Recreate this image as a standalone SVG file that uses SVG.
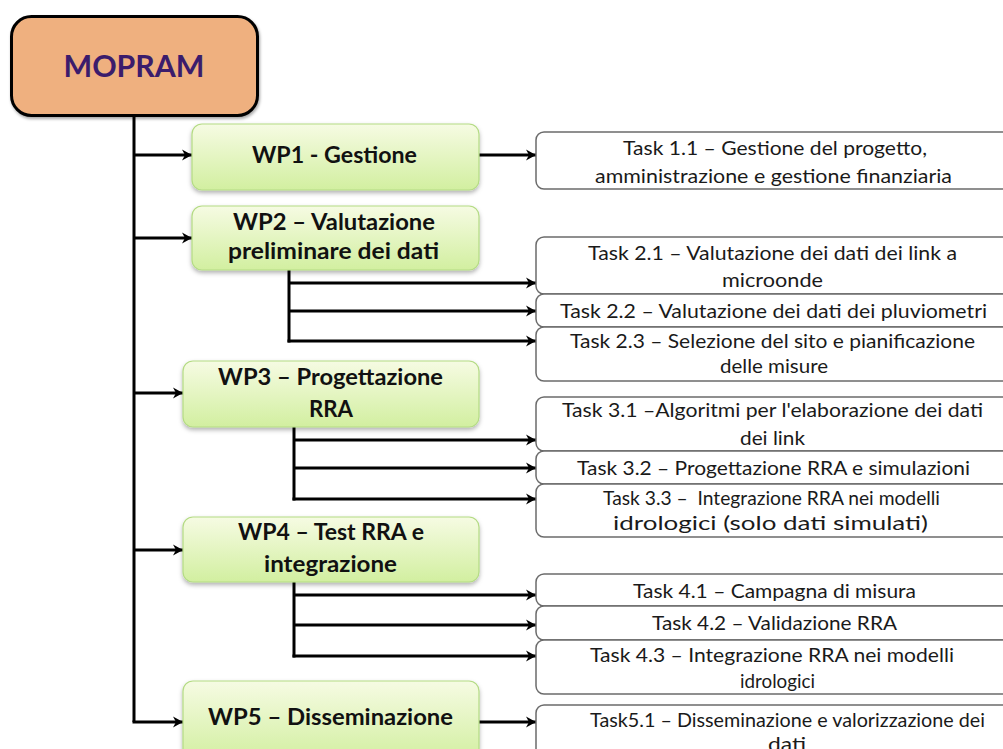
<svg xmlns="http://www.w3.org/2000/svg" width="1003" height="749" viewBox="0 0 1003 749">
<style>
.conn{fill:none;stroke:#000;stroke-width:3;}
.arr{fill:none;stroke:#000;stroke-width:3;marker-end:url(#ah);}
.wp{fill:url(#gw);stroke:#B4DB84;stroke-width:1.2;filter:url(#sh);}
.task{fill:#fff;stroke:#6b6b6b;stroke-width:1.5;}
.wt{font-family:Lato,"Open Sans",sans-serif;font-weight:bold;font-size:22px;fill:#111;text-anchor:middle;}
.tt{font-family:Lato,"Open Sans",sans-serif;font-size:19px;fill:#1a1a1a;text-anchor:middle;}
</style>
<defs>
<linearGradient id="gw" x1="0" y1="0" x2="0" y2="1">
<stop offset="0" stop-color="#F6FBE3"/>
<stop offset="1" stop-color="#D2EFA0"/>
</linearGradient>
<filter id="sh" x="-10%" y="-20%" width="120%" height="150%">
<feDropShadow dx="0" dy="2.5" stdDeviation="2" flood-color="#000" flood-opacity="0.3"/>
</filter>
<filter id="sh2" x="-10%" y="-20%" width="120%" height="150%">
<feDropShadow dx="1" dy="2" stdDeviation="1.5" flood-color="#000" flood-opacity="0.35"/>
</filter>
<marker id="ah" markerUnits="userSpaceOnUse" markerWidth="14" markerHeight="14" refX="11" refY="7" orient="auto" viewBox="0 0 14 14">
<path d="M1,1.5 L11,7 L1,12.5 L4,7 Z" fill="#000"/>
</marker>
</defs>

<g id="connectors">
<path class="conn" d="M134,116 V722"/>
<path class="arr" d="M134,155 H192"/>
<path class="arr" d="M134,238 H192"/>
<path class="arr" d="M134,393 H183"/>
<path class="arr" d="M134,550 H183"/>
<path class="arr" d="M132.5,722 H183"/>
<path class="arr" d="M479,155 H536"/>
<path class="arr" d="M479,722 H536"/>
<path class="conn" d="M289,270 V342.5"/>
<path class="arr" d="M289,283 H536"/>
<path class="arr" d="M289,311 H536"/>
<path class="arr" d="M287.5,341 H536"/>
<path class="conn" d="M294,427 V500.5"/>
<path class="arr" d="M294,440 H536"/>
<path class="arr" d="M294,468 H536"/>
<path class="arr" d="M292.5,499 H536"/>
<path class="conn" d="M294,582 V657.5"/>
<path class="arr" d="M294,595 H536"/>
<path class="arr" d="M294,625 H536"/>
<path class="arr" d="M292.5,656 H536"/>
</g>

<g id="mopram">
<rect x="11.5" y="16.5" width="246" height="99" rx="20" fill="#EFB07F" stroke="#000" stroke-width="3" filter="url(#sh2)"/>
<text x="134" y="77" font-family="Lato,'Open Sans',sans-serif" font-weight="bold" font-size="31" fill="#3B1C6C" text-anchor="middle" textLength="141" lengthAdjust="spacingAndGlyphs">MOPRAM</text>
</g>

<g id="wp1">
<rect class="wp" x="192" y="124" width="287" height="66" rx="10"/>
<text class="wt" x="334.5" y="163" textLength="165" lengthAdjust="spacingAndGlyphs">WP1 - Gestione</text>
</g>
<g id="wp2">
<rect class="wp" x="192" y="206" width="287" height="64" rx="10"/>
<text class="wt" x="334" y="230" textLength="202" lengthAdjust="spacingAndGlyphs">WP2 – Valutazione</text>
<text class="wt" x="333.5" y="259" textLength="211" lengthAdjust="spacingAndGlyphs">preliminare dei dati</text>
</g>
<g id="wp3">
<rect class="wp" x="183" y="361" width="296" height="66" rx="10"/>
<text class="wt" x="330.5" y="385" textLength="225" lengthAdjust="spacingAndGlyphs">WP3 – Progettazione</text>
<text class="wt" x="331" y="417" textLength="44" lengthAdjust="spacingAndGlyphs">RRA</text>
</g>
<g id="wp4">
<rect class="wp" x="183" y="517" width="296" height="65" rx="10"/>
<text class="wt" x="331" y="540" textLength="186" lengthAdjust="spacingAndGlyphs">WP4 – Test RRA e</text>
<text class="wt" x="330.5" y="572" textLength="133" lengthAdjust="spacingAndGlyphs">integrazione</text>
</g>
<g id="wp5">
<rect class="wp" x="183" y="681" width="296" height="80" rx="10"/>
<text class="wt" x="330.5" y="725" textLength="245" lengthAdjust="spacingAndGlyphs">WP5 – Disseminazione</text>
</g>

<g id="task11">
<rect class="task" x="536" y="132" width="480" height="57" rx="8"/>
<text class="tt" x="775" y="155" textLength="304" lengthAdjust="spacingAndGlyphs">Task 1.1 – Gestione del progetto,</text>
<text class="tt" x="773.5" y="183" textLength="357" lengthAdjust="spacingAndGlyphs">amministrazione e gestione finanziaria</text>
</g>
<g id="task21">
<rect class="task" x="536" y="237" width="480" height="57" rx="8"/>
<text class="tt" x="772.5" y="260" textLength="369" lengthAdjust="spacingAndGlyphs">Task 2.1 – Valutazione dei dati dei link a</text>
<text class="tt" x="772.5" y="287" textLength="101" lengthAdjust="spacingAndGlyphs">microonde</text>
</g>
<g id="task22">
<rect class="task" x="536" y="294" width="480" height="33" rx="8"/>
<text class="tt" x="773.5" y="318" textLength="427" lengthAdjust="spacingAndGlyphs">Task 2.2 – Valutazione dei dati dei pluviometri</text>
</g>
<g id="task23">
<rect class="task" x="536" y="327" width="480" height="54" rx="8"/>
<text class="tt" x="772.5" y="348" textLength="405" lengthAdjust="spacingAndGlyphs">Task 2.3 – Selezione del sito e pianificazione</text>
<text class="tt" x="774" y="373" textLength="108" lengthAdjust="spacingAndGlyphs">delle misure</text>
</g>
<g id="task31">
<rect class="task" x="536" y="397" width="480" height="54" rx="8"/>
<text class="tt" x="772.5" y="417" textLength="421" lengthAdjust="spacingAndGlyphs">Task 3.1 –Algoritmi per l'elaborazione dei dati</text>
<text class="tt" x="772.5" y="445" textLength="65" lengthAdjust="spacingAndGlyphs">dei link</text>
</g>
<g id="task32">
<rect class="task" x="536" y="451" width="480" height="33" rx="8"/>
<text class="tt" x="773.5" y="475" textLength="393" lengthAdjust="spacingAndGlyphs">Task 3.2 – Progettazione RRA e simulazioni</text>
</g>
<g id="task33">
<rect class="task" x="536" y="484" width="480" height="53" rx="8"/>
<text class="tt" x="771.5" y="505" textLength="337" lengthAdjust="spacingAndGlyphs" xml:space="preserve">Task 3.3 –  Integrazione RRA nei modelli</text>
<text class="tt" x="770.5" y="530" textLength="315" lengthAdjust="spacingAndGlyphs">idrologici (solo dati simulati)</text>
</g>
<g id="task41">
<rect class="task" x="536" y="574" width="480" height="32" rx="8"/>
<text class="tt" x="774.5" y="598" textLength="283" lengthAdjust="spacingAndGlyphs">Task 4.1 – Campagna di misura</text>
</g>
<g id="task42">
<rect class="task" x="536" y="606" width="480" height="34" rx="8"/>
<text class="tt" x="774.5" y="630" textLength="245" lengthAdjust="spacingAndGlyphs">Task 4.2 – Validazione RRA</text>
</g>
<g id="task43">
<rect class="task" x="536" y="640" width="480" height="54" rx="8"/>
<text class="tt" x="772" y="662" textLength="364" lengthAdjust="spacingAndGlyphs">Task 4.3 – Integrazione RRA nei modelli</text>
<text class="tt" x="777.5" y="688" textLength="75" lengthAdjust="spacingAndGlyphs">idrologici</text>
</g>
<g id="task51">
<rect class="task" x="536" y="705" width="480" height="60" rx="8"/>
<text class="tt" x="787.5" y="727" textLength="395" lengthAdjust="spacingAndGlyphs">Task5.1 – Disseminazione e valorizzazione dei</text>
<text class="tt" x="787" y="751" textLength="38" lengthAdjust="spacingAndGlyphs">dati</text>
</g>
</svg>
